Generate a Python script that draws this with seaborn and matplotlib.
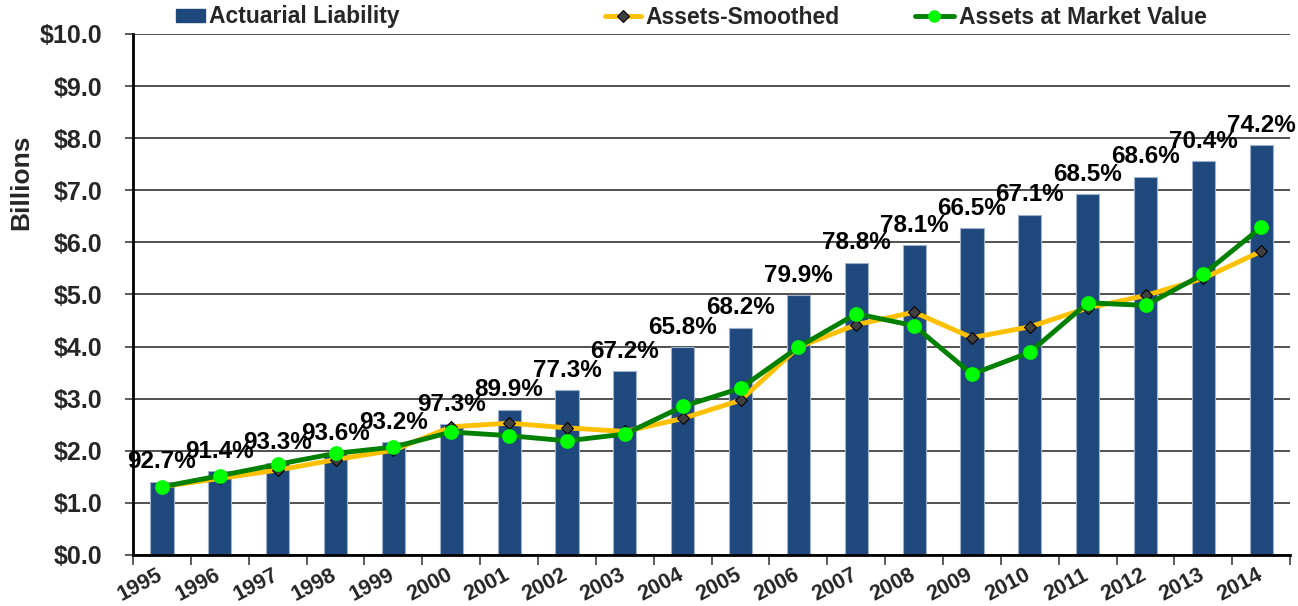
import matplotlib
matplotlib.use('Agg')
import matplotlib.pyplot as plt
import matplotlib.transforms as mtransforms
import numpy as np
import pandas as pd
import seaborn as sns
from matplotlib.lines import Line2D
from matplotlib.patches import Patch
from matplotlib.ticker import FuncFormatter

# data ($ billions)
years = ['1995', '1996', '1997', '1998', '1999', '2000', '2001', '2002', '2003', '2004',
         '2005', '2006', '2007', '2008', '2009', '2010', '2011', '2012', '2013', '2014']
liability = [1.41, 1.61, 1.77, 1.96, 2.17, 2.51, 2.79, 3.16, 3.53, 3.99,
             4.36, 4.98, 5.61, 5.95, 6.27, 6.53, 6.92, 7.26, 7.56, 7.86]
smoothed = [1.31, 1.47, 1.63, 1.83, 2.01, 2.46, 2.53, 2.44, 2.37, 2.62,
            2.97, 3.99, 4.42, 4.66, 4.17, 4.38, 4.74, 4.98, 5.31, 5.83]
market = [1.31, 1.52, 1.74, 1.95, 2.07, 2.36, 2.29, 2.19, 2.32, 2.85,
          3.20, 3.99, 4.63, 4.40, 3.47, 3.89, 4.84, 4.79, 5.39, 6.29]
funded_pct = ['92.7%', '91.4%', '93.3%', '93.6%', '93.2%', '97.3%', '89.9%', '77.3%', '67.2%', '65.8%',
              '68.2%', '79.9%', '78.8%', '78.1%', '66.5%', '67.1%', '68.5%', '68.6%', '70.4%', '74.2%']

BAR = '#1F497D'
YELLOW = '#FFC000'
GREEN = '#008000'
LIME = '#00FF00'

sns.set_style('white')
plt.rcParams['font.family'] = ['Liberation Sans', 'DejaVu Sans']
plt.rcParams['font.weight'] = 'bold'

df = pd.DataFrame({'year': years, 'liability': liability, 'smoothed': smoothed, 'market': market})

fig, ax = plt.subplots(figsize=(12.98, 6.06), dpi=100)
fig.subplots_adjust(left=0.1025, right=0.994, top=0.944, bottom=0.0842)

ax.yaxis.grid(True, color='#333333', linewidth=1.2)
ax.set_axisbelow(True)

sns.barplot(data=df, x='year', y='liability', color=BAR, saturation=1, width=0.4,
            edgecolor='#9DB0CC', linewidth=0.8, ax=ax)
sns.pointplot(data=df, x='year', y='smoothed', color=YELLOW, markers='D', errorbar=None,
              linewidth=3.5, markersize=6, ax=ax)
sns.pointplot(data=df, x='year', y='market', color=GREEN, markers='o', errorbar=None,
              linewidth=3.5, markersize=8, ax=ax)

smooth_line, market_line = ax.lines[-2], ax.lines[-1]
smooth_line.set_markerfacecolor('#404040')
smooth_line.set_markeredgecolor('black')
smooth_line.set_markeredgewidth(0.8)
market_line.set_markerfacecolor(LIME)
market_line.set_markeredgecolor(LIME)
market_line.set_zorder(smooth_line.get_zorder() + 0.1)

# funded ratio labels above bars
for p, pct in zip(ax.patches, funded_pct):
    ax.annotate(pct, (p.get_x() + p.get_width() / 2., p.get_height()),
                xytext=(0, 6), textcoords='offset points',
                ha='center', va='bottom', fontsize=17.5, fontweight='bold', color='black')

# axes
ax.set_ylim(0, 10)
ax.set_yticks(np.arange(0, 11))
ax.yaxis.set_major_formatter(FuncFormatter(lambda v, _: f'${v:.1f}'))
ax.tick_params(axis='y', length=6, width=1.2, pad=16, labelsize=18, left=True, color='#404040')

ax.set_xlim(-0.5, len(years) - 0.5)
ax.set_xticks(np.arange(-0.5, len(years), 1), minor=True)
ax.tick_params(axis='x', which='major', length=0, pad=7, labelsize=15.5)
ax.tick_params(axis='x', which='minor', length=7, width=1.2, color='#404040', bottom=True)
shift = mtransforms.ScaledTranslation(-4 / 72, 0, fig.dpi_scale_trans)
for lab in ax.get_xticklabels():
    lab.set_rotation(28)
    lab.set_ha('right')
    lab.set_va('top')
    lab.set_rotation_mode('anchor')
    lab.set_transform(lab.get_transform() + shift)

ax.set_xlabel('')
ax.set_ylabel('Billions', fontsize=19, fontweight='bold')
ax.yaxis.set_label_coords(-0.086, 0.716)

sns.despine(ax=ax, top=True, right=True)
for side in ['left', 'bottom']:
    ax.spines[side].set_color('black')
    ax.spines[side].set_linewidth(2)

# legend, spread across the top like the original
legend_items = [
    (Patch(facecolor=BAR, edgecolor=BAR), 'Actuarial Liability', 176, 1.25),
    (Line2D([], [], color=YELLOW, lw=3.5, marker='D', markersize=6,
            markerfacecolor='#404040', markeredgecolor='black', markeredgewidth=0.8),
     'Assets-Smoothed', 605, 1.55),
    (Line2D([], [], color=GREEN, lw=3.5, marker='o', markersize=8,
            markerfacecolor=LIME, markeredgecolor=LIME),
     'Assets at Market Value', 915, 1.7),
]
for handle, label, xpix, hlen in legend_items:
    fig.legend(handles=[handle], labels=[label], loc='center left',
               bbox_to_anchor=(xpix / 1298, 1 - 17 / 606), frameon=False,
               prop={'size': 16.5, 'weight': 'bold'}, handlelength=hlen, handleheight=0.5,
               handletextpad=0.2, borderpad=0, borderaxespad=0)

plt.savefig('out.png', dpi=100)
